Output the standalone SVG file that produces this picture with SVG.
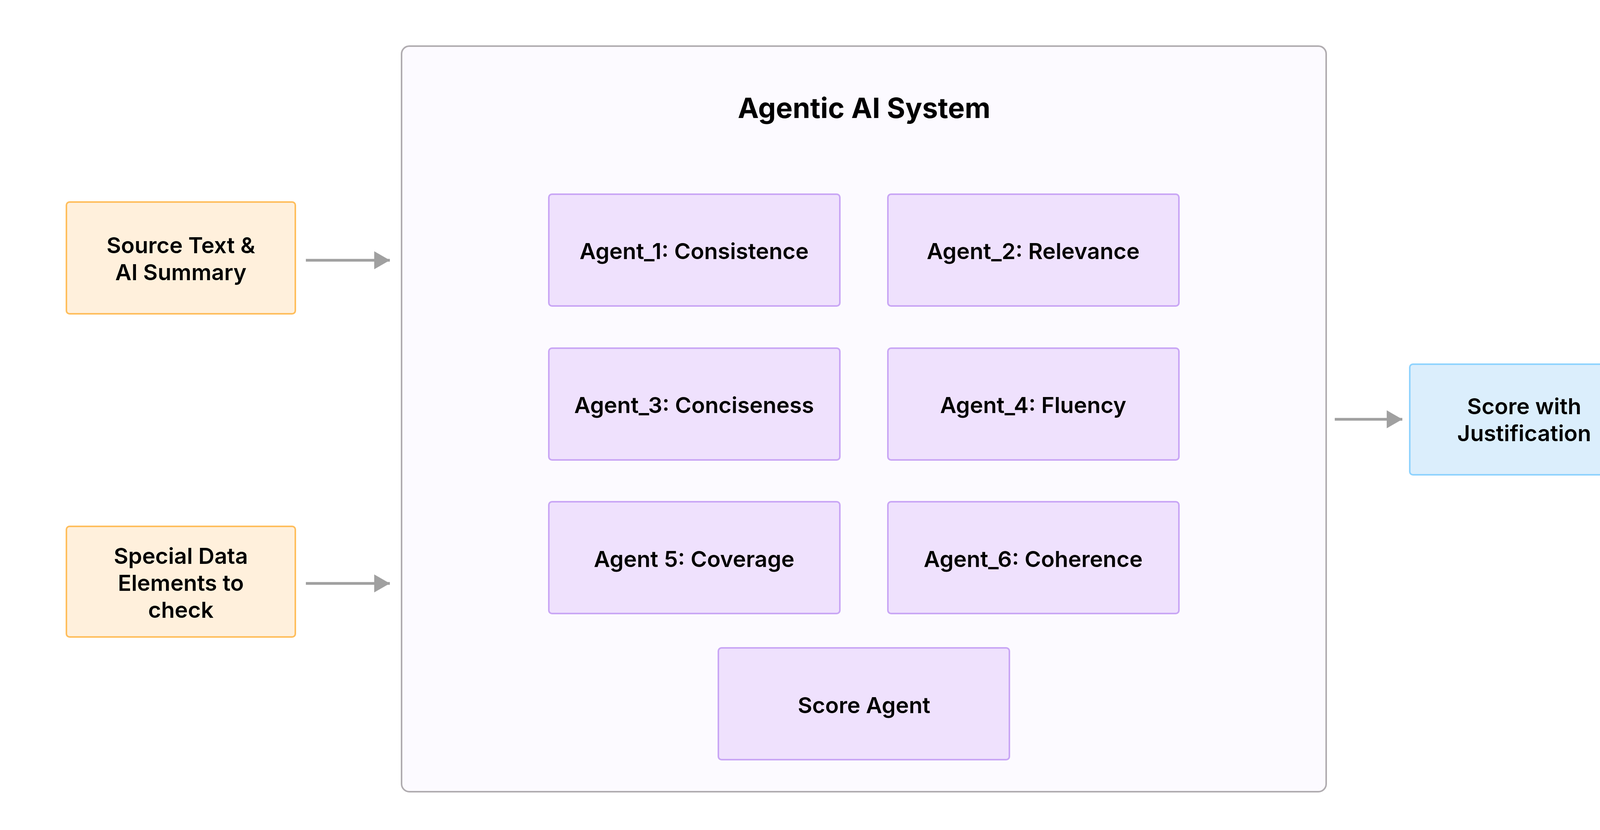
<svg xmlns="http://www.w3.org/2000/svg" width="4288" height="2124" viewBox="0 0 4288 2124">
<style>
text{font-family:Inter,"Liberation Sans",sans-serif;font-weight:600;fill:#000;text-anchor:middle;dominant-baseline:central}
.n{font-size:57px}
.ag{fill:#efe1fd;stroke:#c9a6f5;stroke-width:4}
.in{fill:#fff0dc;stroke:#ffbe5c;stroke-width:4}
.out{fill:#dbeefc;stroke:#8fd3fe;stroke-width:4}
.c{stroke:#a0a0a0;stroke-width:7;fill:none}
</style>
<defs><marker id="ah" markerUnits="userSpaceOnUse" markerWidth="40" markerHeight="46" refX="40" refY="23" orient="auto"><path d="M0,0L40,23L0,46z" fill="#a0a0a0"/></marker></defs>
<g id="system"><rect x="1028" y="118" width="2367" height="1908" rx="20" fill="#fcfaff" stroke="#b0acb0" stroke-width="4"/><text x="2212" y="275" style="font-size:72px;font-weight:700">Agentic AI System</text></g>
<g id="a1"><rect class="ag" x="1405" y="497" width="745" height="286" rx="8"/><text class="n" x="1777" y="642">Agent_1: Consistence</text></g>
<g id="a2"><rect class="ag" x="2273" y="497" width="745" height="286" rx="8"/><text class="n" x="2645" y="642">Agent_2: Relevance</text></g>
<g id="a3"><rect class="ag" x="1405" y="891" width="745" height="286" rx="8"/><text class="n" x="1777" y="1036">Agent_3: Conciseness</text></g>
<g id="a4"><rect class="ag" x="2273" y="891" width="745" height="286" rx="8"/><text class="n" x="2645" y="1036">Agent_4: Fluency</text></g>
<g id="a5"><rect class="ag" x="1405" y="1284" width="745" height="286" rx="8"/><text class="n" x="1777" y="1430">Agent 5: Coverage</text></g>
<g id="a6"><rect class="ag" x="2273" y="1284" width="745" height="286" rx="8"/><text class="n" x="2645" y="1430">Agent_6: Coherence</text></g>
<g id="score"><rect class="ag" x="1839" y="1658" width="745" height="286" rx="8"/><text class="n" x="2212" y="1804">Score Agent</text></g>
<g id="src"><rect class="in" x="170" y="517" width="586" height="286" rx="8"/><text class="n" x="463" y="627">Source Text &amp;</text><text class="n" x="463" y="696">AI Summary</text></g>
<g id="special"><rect class="in" x="170" y="1347" width="586" height="283" rx="8"/><text class="n" x="463" y="1422">Special Data</text><text class="n" x="463" y="1491">Elements to</text><text class="n" x="463" y="1560">check</text></g>
<g id="result"><rect class="out" x="3609" y="932" width="586" height="283" rx="8"/><text class="n" x="3902" y="1039">Score with</text><text class="n" x="3902" y="1108">Justification</text></g>
<g id="connectors">
<line class="c" x1="783" y1="666" x2="998" y2="666" marker-end="url(#ah)"/>
<line class="c" x1="783" y1="1493" x2="998" y2="1493" marker-end="url(#ah)"/>
<line class="c" x1="3417" y1="1073" x2="3590" y2="1073" marker-end="url(#ah)"/>
</g>
</svg>
